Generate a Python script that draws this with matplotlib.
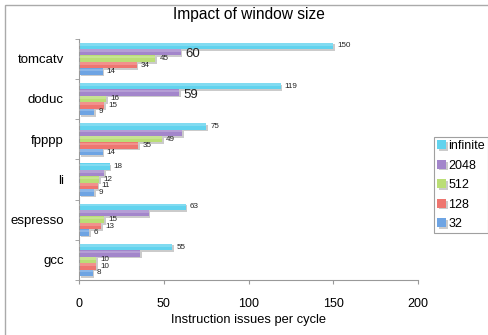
import matplotlib.pyplot as plt
import matplotlib.patheffects as pe
from matplotlib.patches import Rectangle
import numpy as np

plt.rcParams['font.family'] = ['Liberation Sans', 'DejaVu Sans']

benchmarks = ["tomcatv", "doduc", "fpppp", "li", "espresso", "gcc"]
windows = ["infinite", "2048", "512", "128", "32"]
issues = {
    "infinite": [150, 119, 75, 18, 63, 55],
    "2048": [60, 59, 61, 15, 41, 36],
    "512": [45, 16, 49, 12, 15, 10],
    "128": [34, 15, 35, 11, 13, 10],
    "32": [14, 9, 14, 9, 6, 8],
}
# only these 2048 bars carry a (larger) value label
labeled_2048 = ["tomcatv", "doduc"]
colors = ["#62d3ee", "#a386cb", "#bade76", "#ee7670", "#6ea4e3"]

fig = plt.figure(figsize=(4.88, 3.35), dpi=100)
ax = fig.add_axes([0.1619, 0.1642, 0.6947, 0.7206])

y = np.arange(len(benchmarks))
h = 0.16
shadow = [pe.SimplePatchShadow(offset=(1.2, -1.2), shadow_rgbFace="#999999", alpha=0.5), pe.Normal()]

for k, (name, c) in enumerate(zip(windows, colors)):
    pos = y - 0.4 + h * (k + 0.5)
    vals = issues[name]
    bars = ax.barh(pos, vals, height=h, color=c, edgecolor="none", label=name,
                   path_effects=shadow, zorder=2)
    # lighter band along the top of each bar
    ax.barh(pos - h * 0.25, vals, height=h * 0.4, color="white", alpha=0.2,
            edgecolor="none", zorder=3)
    for b, v, bench in zip(bars, vals, benchmarks):
        cy = b.get_y() + b.get_height() / 2
        if name == "2048":
            if bench in labeled_2048:
                ax.annotate(str(v), (v, cy), xytext=(3, -1.5), textcoords="offset points",
                            va="center", ha="left", fontsize=9.5, color="#222222")
        else:
            ax.annotate(str(v), (v, cy), xytext=(3, 0), textcoords="offset points",
                        va="center", ha="left", fontsize=5.8, color="#222222")

ax.set_xlim(0, 200)
ax.set_ylim(len(benchmarks) - 0.5, -0.5)
ax.set_xticks([0, 50, 100, 150, 200])
ax.set_yticks(y)
ax.set_yticklabels(benchmarks)
ax.set_yticks(np.arange(len(benchmarks) + 1) - 0.5, minor=True)
ax.tick_params(axis="y", which="major", length=0, pad=11, labelsize=9.5)
ax.tick_params(axis="y", which="minor", length=3, color="#999999", direction="out")
ax.tick_params(axis="x", length=3, color="#999999", pad=10, labelsize=9)
for s in ["top", "right"]:
    ax.spines[s].set_visible(False)
for s in ["left", "bottom"]:
    ax.spines[s].set_color("#999999")
ax.set_xlabel("Instruction issues per cycle", fontsize=9.3, labelpad=3)

fig.text(0.51, 1 - 14 / 335, "Impact of window size", ha="center", va="center", fontsize=11.2)

leg = fig.legend(loc="upper left", bbox_to_anchor=(434 / 488, 1 - 137 / 335), borderaxespad=0,
                 fontsize=9, frameon=True, fancybox=False, handlelength=0.7, handleheight=0.7,
                 handletextpad=0.2, labelspacing=0.6, borderpad=0.25)
leg.get_frame().set_edgecolor("#888888")
leg.get_frame().set_linewidth(0.8)

# outer chart border
fig.patches.append(Rectangle((5 / 488, -0.1), 1.2, 1.1 - 5 / 335, transform=fig.transFigure,
                             fill=False, edgecolor="#aaaaaa", linewidth=1.0))

fig.savefig("out.png", dpi=100)
